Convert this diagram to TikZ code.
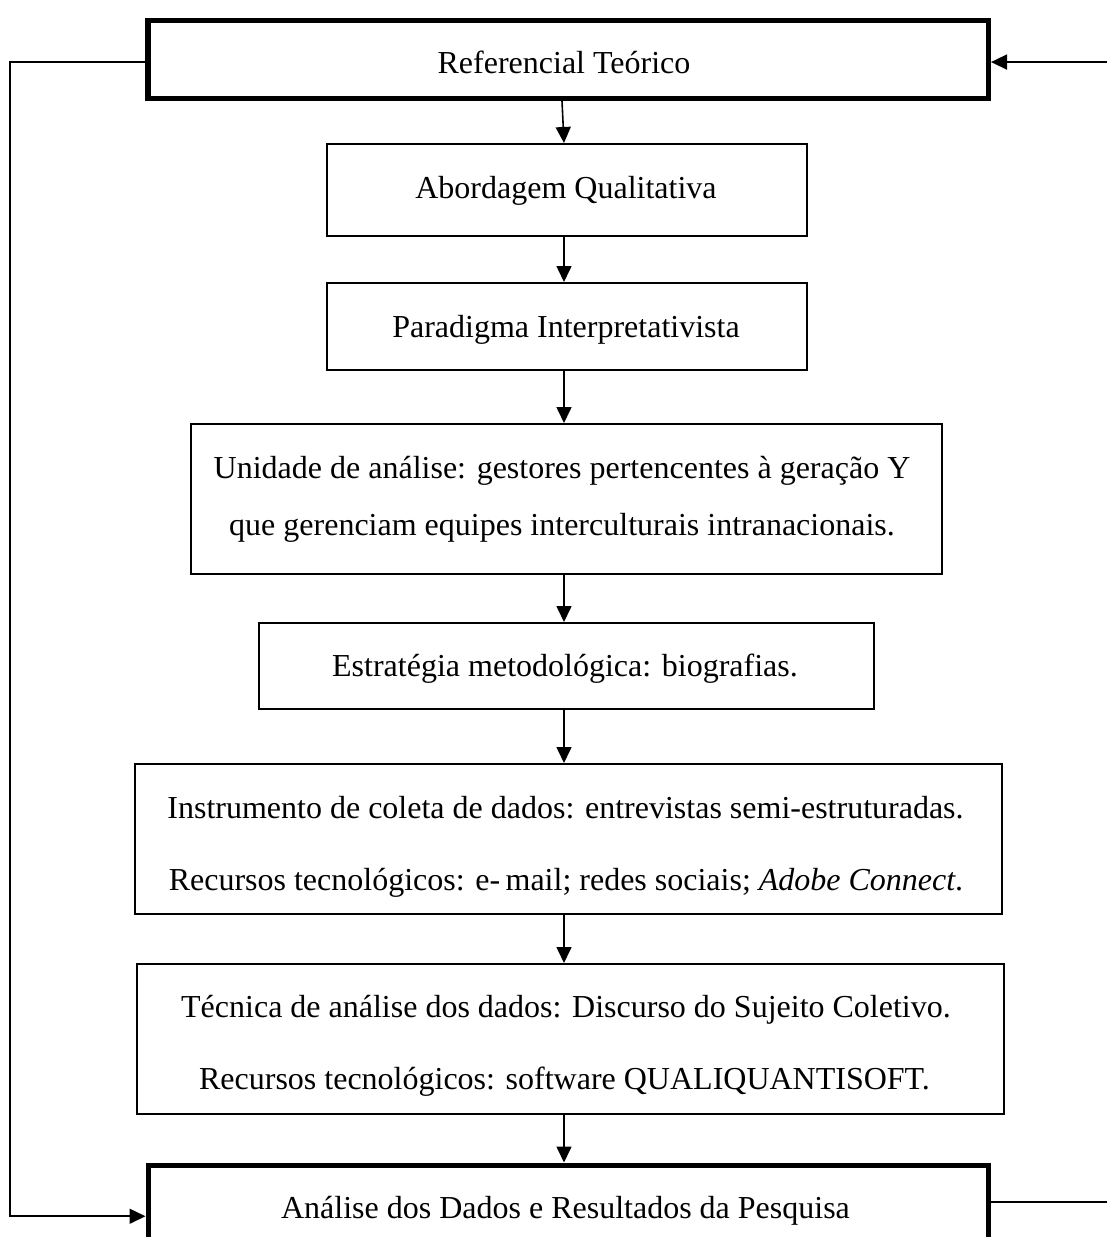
\documentclass[tikz,border=0pt]{standalone}
\usepackage{fontspec}
\setmainfont{Liberation Serif}
\usetikzlibrary{arrows.meta}
\tikzset{
  thinbox/.style={draw, line width=1.6pt, inner sep=0pt, anchor=north west},
  thickbox/.style={draw, line width=5.5pt, inner sep=0pt, anchor=north west},
  txt/.style={anchor=base, inner sep=0pt, font=\fontsize{32}{36}\selectfont},
  arr/.style={line width=1.6pt, -{Triangle[length=16pt,width=15pt]}}
}
\begin{document}
\begin{tikzpicture}[x=1pt,y=-1pt]
\clip (0,0) rectangle (1107,1237);
\fill[white] (0,0) rectangle (1107,1237);
% boxes
\node[thickbox, minimum width=840.5pt, minimum height=78pt] (b1) at (145,17.5) {};
\node[thinbox, minimum width=480pt, minimum height=92pt] (b2) at (326,143) {};
\node[thinbox, minimum width=480pt, minimum height=87pt] (b3) at (326,282) {};
\node[thinbox, minimum width=751pt, minimum height=150pt] (b4) at (190,423) {};
\node[thinbox, minimum width=615pt, minimum height=86pt] (b5) at (258,622) {};
\node[thinbox, minimum width=867pt, minimum height=150pt] (b6) at (134,763) {};
\node[thinbox, minimum width=867pt, minimum height=150pt] (b7) at (136,963) {};
\node[thickbox, minimum width=840pt, minimum height=94pt] (b8) at (145.5,1162.5) {};
% texts
\node[txt] (t1) at (564,73) {Referencial Teórico};
\node[txt] (t2) at (566,198) {Abordagem Qualitativa};
\node[txt] (t3) at (566,337) {Paradigma Interpretativista};
\node[txt] (t4a) at (562,478) {Unidade de análise: gestores pertencentes à geração Y};
\node[txt] (t4b) at (562,535) {que gerenciam equipes interculturais intranacionais.};
\node[txt] (t5) at (565,676) {Estratégia metodológica: biografias.};
\node[txt] (t6a) at (565.5,818) {Instrumento de coleta de dados: entrevistas semi-estruturadas.};
\node[txt] (t6b) at (566,890) {Recursos tecnológicos: e-\,mail; redes sociais; \textit{Adobe Connect}.};
\node[txt] (t7a) at (566,1017) {Técnica de análise dos dados: Discurso do Sujeito Coletivo.};
\node[txt] (t7b) at (564.5,1089) {Recursos tecnológicos: software QUALIQUANTISOFT.};
\node[txt] (t8) at (565.5,1218) {Análise dos Dados e Resultados da Pesquisa};
% vertical flow arrows
\coordinate (ax0) at (562,0);
\coordinate (ax) at (564,0);
\draw[arr] (b1.south -| ax0) -- (b2.north -| ax);
\draw[arr] (b2.south -| ax) -- (b3.north -| ax);
\draw[arr] (b3.south -| ax) -- (b4.north -| ax);
\draw[arr] (b4.south -| ax) -- (b5.north -| ax);
\draw[arr] (b5.south -| ax) -- (b6.north -| ax);
\draw[arr] (b6.south -| ax) -- (b7.north -| ax);
\draw[arr] (b7.south -| ax) -- (b8.north -| ax);
% feedback loops
\coordinate (lx) at (10,0);
\coordinate (rx) at (1120,0);
\coordinate (p1) at ([yshift=-2.8pt]b1.west);
\coordinate (p2) at ([yshift=-4pt]b8.west);
\coordinate (q1) at ([yshift=10pt]b8.east);
\coordinate (q2) at ([yshift=-2.8pt]b1.east);
\draw[arr] (p1) -- (p1 -| lx) -- (p2 -| lx) -- (p2);
\draw[arr] (q1) -- (q1 -| rx) -- (q2 -| rx) -- (q2);
\end{tikzpicture}
\end{document}
